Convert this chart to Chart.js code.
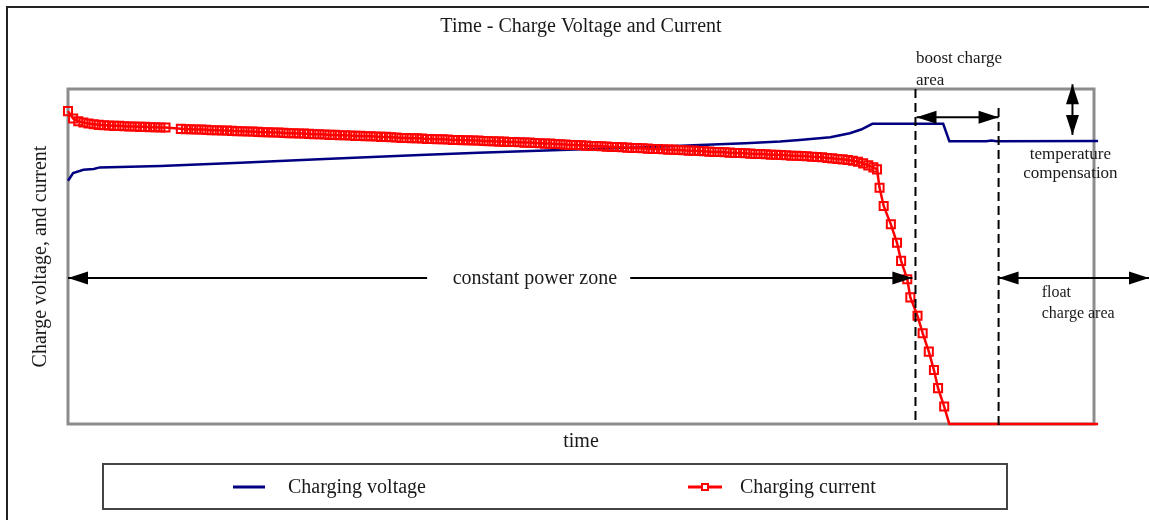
<!DOCTYPE html>
<html>
<head>
<meta charset="utf-8">
<title>Time - Charge Voltage and Current</title>
<script src="https://cdn.jsdelivr.net/npm/chart.js@4.4.1/dist/chart.umd.min.js"></script>
<style>
    html, body { margin: 0; padding: 0; background: #fff; }
    #wrap { width: 1149px; height: 520px; }
</style>
</head>
<body>
<div id="wrap"><canvas id="chargeChart"></canvas></div>
<script>
// time and values are in relative units (0-100)
const seriesNames = ["Charging voltage", "Charging current"];

const voltageTime = [0, 0.5, 1.5, 2.5, 3.1, 9, 16.8, 25, 34.3, 40, 48, 55, 61.6, 66, 69.4, 71.3,
    74.3, 76.2, 77.3, 78.4, 85.3, 85.9, 89.5, 90, 90.5, 100.4];
const voltageValues = [72.6, 74.9, 75.9, 76.1, 76.6, 77.0, 78.0, 79.1, 80.3, 81.0, 81.8, 82.5, 83.3, 83.8, 84.3, 84.8,
    85.6, 86.8, 87.9, 89.6, 89.6, 84.4, 84.4, 84.6, 84.4, 84.5];

const currentTime = [
    0, 0.5, 1, 1.5, 2, 2.5, 3, 3.5, 4, 4.5,
    5, 5.5, 6, 6.5, 7, 7.5, 8, 8.5, 9, 9.5,
    11, 11.5, 12, 12.5, 13, 13.5, 14, 14.5, 15, 15.5,
    16, 16.5, 17, 17.5, 18, 18.5, 19, 19.5, 20, 20.5,
    21, 21.5, 22, 22.5, 23, 23.5, 24, 24.5, 25, 25.5,
    26, 26.5, 27, 27.5, 28, 28.5, 29, 29.5, 30, 30.5,
    31, 31.5, 32, 32.5, 33, 33.5, 34, 34.5, 35, 35.5,
    36, 36.5, 37, 37.5, 38, 38.5, 39, 39.5, 40, 40.5,
    41, 41.5, 42, 42.5, 43, 43.5, 44, 44.5, 45, 45.5,
    46, 46.5, 47, 47.5, 48, 48.5, 49, 49.5, 50, 50.5,
    51, 51.5, 52, 52.5, 53, 53.5, 54, 54.5, 55, 55.5,
    56, 56.5, 57, 57.5, 58, 58.5, 59, 59.5, 60, 60.5,
    61, 61.5, 62, 62.5, 63, 63.5, 64, 64.5, 65, 65.5,
    66, 66.5, 67, 67.5, 68, 68.5, 69, 69.5, 70, 70.5,
    71, 71.5, 72, 72.5, 73, 73.5, 74, 74.5, 75, 75.5,
    76, 76.5, 77, 77.5, 78, 78.5, 78.85,
    79.1, 79.5, 80.2, 80.8, 81.2, 81.8, 82.1, 82.8, 83.3, 83.9, 84.4, 84.8, 85.4,
    85.9, 100.4
];
const currentValues = [
    93.4, 91.2, 90.4, 90.0, 89.7, 89.5, 89.3, 89.2, 89.1, 89.0,
    89.0, 88.9, 88.8, 88.8, 88.7, 88.7, 88.6, 88.6, 88.5, 88.5,
    88.1, 88.0, 88.0, 87.9, 87.9, 87.8, 87.7, 87.7, 87.6, 87.6,
    87.5, 87.4, 87.4, 87.3, 87.3, 87.2, 87.1, 87.1, 87.0, 87.0,
    86.9, 86.8, 86.8, 86.7, 86.7, 86.6, 86.5, 86.5, 86.4, 86.3,
    86.3, 86.2, 86.2, 86.1, 86.0, 86.0, 85.9, 85.9, 85.8, 85.7,
    85.7, 85.6, 85.5, 85.4, 85.4, 85.3, 85.3, 85.2, 85.1, 85.1,
    85.0, 85.0, 84.9, 84.8, 84.8, 84.7, 84.7, 84.6, 84.6, 84.5,
    84.4, 84.4, 84.3, 84.3, 84.2, 84.2, 84.1, 84.0, 84.0, 83.9,
    83.8, 83.7, 83.7, 83.6, 83.5, 83.4, 83.3, 83.3, 83.2, 83.1,
    83.0, 83.0, 82.9, 82.8, 82.7, 82.7, 82.6, 82.5, 82.4, 82.4,
    82.3, 82.2, 82.1, 82.1, 82.0, 81.9, 81.9, 81.8, 81.7, 81.6,
    81.6, 81.5, 81.4, 81.3, 81.2, 81.2, 81.1, 81.0, 80.9, 80.9,
    80.8, 80.7, 80.6, 80.6, 80.5, 80.4, 80.4, 80.3, 80.2, 80.1,
    80.1, 80.0, 79.9, 79.8, 79.7, 79.6, 79.4, 79.3, 79.1, 79.0,
    78.8, 78.6, 78.3, 77.8, 77.2, 76.6, 76.0,
    70.5, 65.1, 59.6, 54.1, 48.7, 43.2, 37.8, 32.3, 27.1, 21.6, 16.1, 10.7, 5.2,
    0, 0
];

// zone boundaries on the time axis
const boostStart = 82.6;
const floatStart = 90.7;

const serif = "'Liberation Serif', 'Times New Roman', serif";

function drawArrowHead(ctx, x, y, angle) {
    ctx.save();
    ctx.translate(x, y);
    ctx.rotate(angle);
    ctx.beginPath();
    ctx.moveTo(0, 0);
    ctx.lineTo(-20, -6.5);
    ctx.lineTo(-20, 6.5);
    ctx.closePath();
    ctx.fill();
    ctx.restore();
}

function drawArrow(ctx, x1, y1, x2, y2) {
    const angle = Math.atan2(y2 - y1, x2 - x1);
    ctx.beginPath();
    ctx.moveTo(x1, y1);
    ctx.lineTo(x2, y2);
    ctx.stroke();
    drawArrowHead(ctx, x2, y2, angle);
    drawArrowHead(ctx, x1, y1, angle + Math.PI);
}

const chargeMarks = {
    id: "chargeMarks",
    beforeDatasetsDraw(chart) {
        const { ctx, chartArea: a } = chart;
        ctx.save();
        ctx.strokeStyle = "#8c8c8c";
        ctx.lineWidth = 3;
        ctx.strokeRect(a.left, a.top, a.right - a.left, a.bottom - a.top);
        ctx.restore();
    },
    afterDatasetsDraw(chart) {
        const { ctx, chartArea: a, scales: { x, y } } = chart;
        const px = v => x.getPixelForValue(v);
        const py = v => y.getPixelForValue(v);
        ctx.save();

        // dashed zone boundaries
        ctx.strokeStyle = "#000";
        ctx.lineWidth = 2;
        ctx.setLineDash([9, 5]);
        ctx.beginPath();
        ctx.moveTo(px(boostStart), a.top);
        ctx.lineTo(px(boostStart), a.bottom - 2);
        ctx.moveTo(px(floatStart), py(94.3));
        ctx.lineTo(px(floatStart), a.bottom + 3);
        ctx.stroke();
        ctx.setLineDash([]);

        // arrows
        ctx.fillStyle = "#000";
        ctx.lineWidth = 2;
        drawArrow(ctx, px(boostStart) + 1, py(91.6), px(floatStart), py(91.6));
        drawArrow(ctx, px(97.9), py(101.4), px(97.9), py(86.3));

        const zoneY = py(43.6);
        ctx.beginPath();
        ctx.moveTo(px(0), zoneY);
        ctx.lineTo(px(35.0), zoneY);
        ctx.moveTo(px(54.8), zoneY);
        ctx.lineTo(px(82.3), zoneY);
        ctx.stroke();
        drawArrowHead(ctx, px(0), zoneY, Math.PI);
        drawArrowHead(ctx, px(82.3), zoneY, 0);
        drawArrow(ctx, px(floatStart), zoneY, chart.width, zoneY);

        // labels
        ctx.fillStyle = "#1a1a1a";
        ctx.textBaseline = "alphabetic";
        ctx.font = "20px " + serif;
        ctx.textAlign = "center";
        ctx.fillText("constant power zone", px(45.5), py(41.8));

        ctx.font = "17px " + serif;
        ctx.textAlign = "left";
        ctx.fillText("boost charge", px(82.65), py(107.7));
        ctx.fillText("area", px(82.65), py(101.2));
        ctx.textAlign = "center";
        ctx.fillText("temperature", px(97.7), py(79.0));
        ctx.fillText("compensation", px(97.7), py(73.4));

        ctx.font = "16px " + serif;
        ctx.textAlign = "left";
        ctx.fillText("float", px(94.9), py(38.0));
        ctx.fillText("charge area", px(94.9), py(31.6));
        ctx.restore();
    },
    afterDraw(chart) {
        const { ctx } = chart;
        ctx.save();
        // outer frame, only its top and left edges are inside the picture
        ctx.strokeStyle = "#222";
        ctx.lineWidth = 2;
        ctx.beginPath();
        ctx.moveTo(7, chart.height);
        ctx.lineTo(7, 7);
        ctx.lineTo(chart.width, 7);
        ctx.stroke();

        // legend box
        ctx.strokeStyle = "#444";
        ctx.strokeRect(103, 464, 904, 45);

        const rowY = 487;
        ctx.lineWidth = 3;
        ctx.strokeStyle = "#000080";
        ctx.beginPath();
        ctx.moveTo(233, rowY);
        ctx.lineTo(265, rowY);
        ctx.stroke();

        ctx.strokeStyle = "#ff0000";
        ctx.beginPath();
        ctx.moveTo(688, rowY);
        ctx.lineTo(722, rowY);
        ctx.stroke();
        ctx.lineWidth = 2;
        ctx.fillStyle = "#fff";
        ctx.fillRect(702, rowY - 3, 6, 6);
        ctx.strokeRect(702, rowY - 3, 6, 6);

        ctx.fillStyle = "#1a1a1a";
        ctx.font = "20px " + serif;
        ctx.textAlign = "left";
        ctx.textBaseline = "alphabetic";
        ctx.fillText(seriesNames[0], 288, rowY + 6);
        ctx.fillText(seriesNames[1], 740, rowY + 6);
        ctx.restore();
    }
};

const chargeChart = new Chart(document.getElementById("chargeChart"), {
    type: "line",
    data: {
        datasets: [
            {
                label: seriesNames[0],
                data: voltageTime.map((t, i) => ({ x: t, y: voltageValues[i] })),
                borderColor: "#000080",
                backgroundColor: "#000080",
                borderWidth: 2.5,
                pointRadius: 0,
                clip: false,
                order: 1
            },
            {
                label: seriesNames[1],
                data: currentTime.map((t, i) => ({ x: t, y: currentValues[i] })),
                borderColor: "#ff0000",
                backgroundColor: "#ff0000",
                borderWidth: 2.5,
                pointStyle: "rect",
                pointRadius: ctx => (ctx.raw && ctx.raw.y > 0 ? 5.7 : 0),
                pointBorderWidth: 2,
                pointBorderColor: "#ff0000",
                pointBackgroundColor: "rgba(255, 255, 255, 0)",
                clip: false,
                order: 0
            }
        ]
    },
    options: {
        responsive: true,
        maintainAspectRatio: false,
        animation: false,
        devicePixelRatio: 1,
        layout: { padding: { top: 0, left: 20, right: 55, bottom: 66 } },
        plugins: {
            legend: { display: false },
            tooltip: { enabled: false },
            title: {
                display: true,
                fullSize: false,
                text: "Time - Charge Voltage and Current",
                color: "#1a1a1a",
                font: { family: serif, size: 20, weight: "normal" },
                padding: { top: 15, bottom: 50 }
            }
        },
        scales: {
            x: {
                type: "linear",
                min: 0,
                max: 100,
                ticks: { display: false },
                grid: { display: false, drawTicks: false },
                border: { display: false },
                title: {
                    display: true,
                    text: "time",
                    color: "#1a1a1a",
                    font: { family: serif, size: 20 },
                    padding: { top: 6, bottom: 0 }
                }
            },
            y: {
                min: 0,
                max: 100,
                ticks: { display: false },
                grid: { display: false, drawTicks: false },
                border: { display: false },
                title: {
                    display: true,
                    text: "Charge voltage, and current",
                    color: "#1a1a1a",
                    font: { family: serif, size: 20 },
                    padding: { top: 9, bottom: 15 }
                }
            }
        }
    },
    plugins: [chargeMarks]
});
</script>
</body>
</html>
